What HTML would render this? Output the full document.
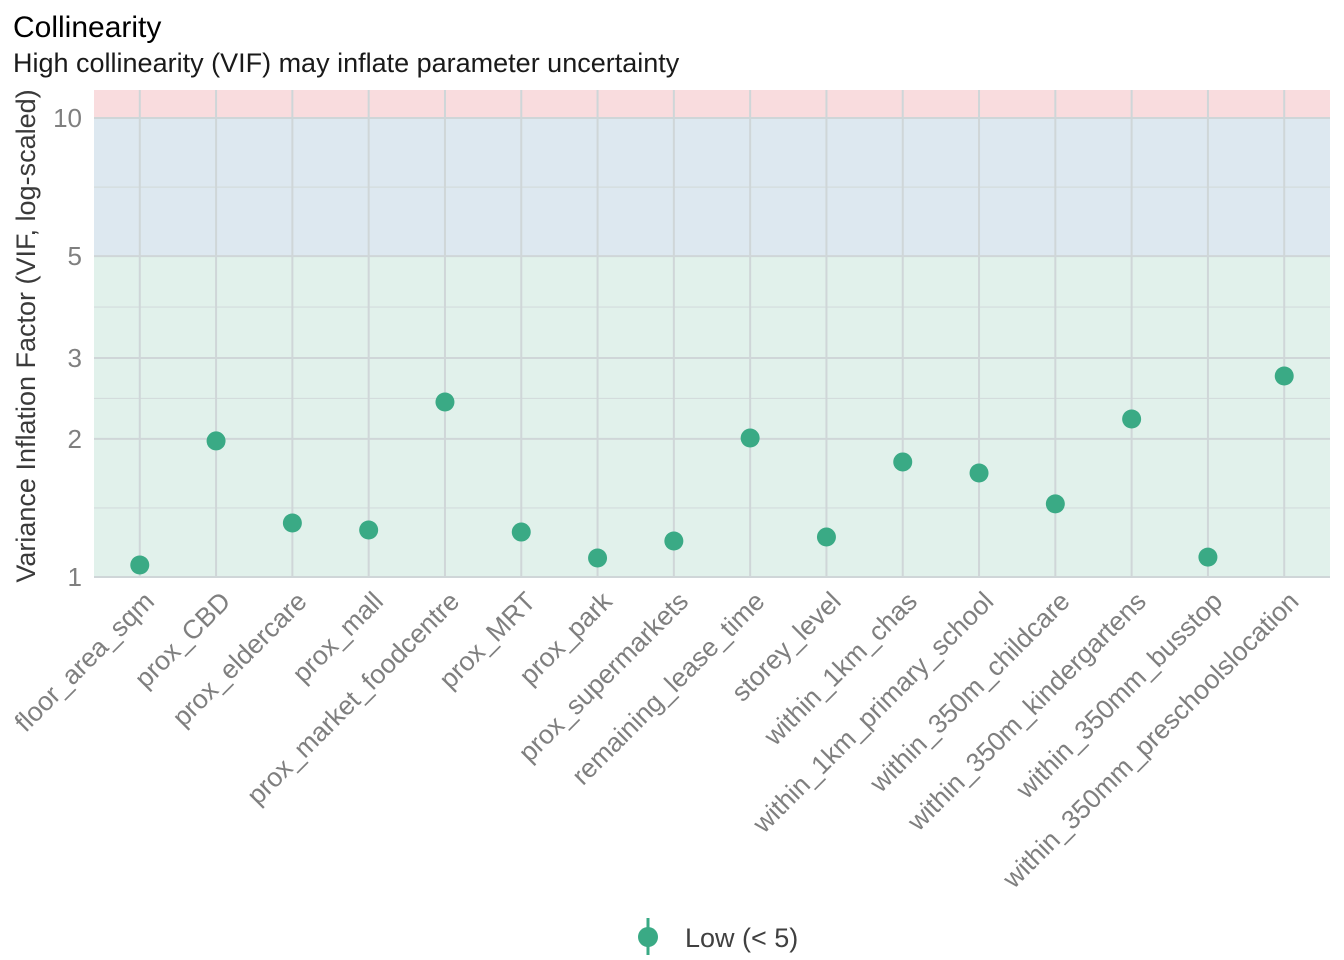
<!DOCTYPE html>
<html><head><meta charset="utf-8">
<style>
body{margin:0;background:#fff;}
svg{display:block;font-family:"Liberation Sans",Arial,sans-serif;}
</style></head>
<body>
<svg id="chart" width="1344" height="960">
  <text x="13" y="37" font-size="30" fill="#000">Collinearity</text>
  <text x="13" y="72" font-size="27" fill="#1a1a1a">High collinearity (VIF) may inflate parameter uncertainty</text>
  <g id="bands"></g>
  <g id="grid"></g>
  <g id="yticks"></g>
  <g id="xticks"></g>
  <g id="points"></g>
  <text transform="translate(35,336) rotate(-90)" text-anchor="middle" font-size="27" fill="#3a3a3a">Variance Inflation Factor (VIF, log-scaled)</text>
  <g>
    <line x1="648" y1="918" x2="648" y2="955" stroke="#3aaa85" stroke-width="3"/>
    <circle cx="648" cy="937" r="10" fill="#3aaa85"/>
    <text x="685" y="947" font-size="27" fill="#404040">Low (&lt; 5)</text>
  </g>
</svg>
<script>
const categories=["floor_area_sqm","prox_CBD","prox_eldercare","prox_mall","prox_market_foodcentre","prox_MRT","prox_park","prox_supermarkets","remaining_lease_time","storey_level","within_1km_chas","within_1km_primary_school","within_350m_childcare","within_350m_kindergartens","within_350mm_busstop","within_350mm_preschoolslocation"];
const vifValues=[1.062,1.979,1.311,1.266,2.406,1.253,1.100,1.198,2.008,1.222,1.781,1.685,1.443,2.209,1.105,2.741];
const yTickValues=[1,2,3,5,10];
const yMinorValues=[1.414,2.449,3.873,7.071];
const NS="http://www.w3.org/2000/svg";
const L=94,R=1330,T=90,B=577;
const step=(R-L)/(categories.length-1+1.2);
function xs(i){return L+step*0.6+i*step;}
function ys(v){return B-459*Math.log10(v);}
function mk(tag,attrs,parent){const e=document.createElementNS(NS,tag);for(const k in attrs)e.setAttribute(k,attrs[k]);parent.appendChild(e);return e;}
const bands=document.getElementById('bands');
let b1=mk('rect',{x:L,y:T,width:R-L,height:ys(10)-T,fill:'#f9dcde'},bands);


let b2=mk('rect',{x:L,y:ys(10),width:R-L,height:ys(5)-ys(10),fill:'#dde8f0'},bands);


let b3=mk('rect',{x:L,y:ys(5),width:R-L,height:B-ys(5),fill:'#e1f1eb'},bands);


const grid=document.getElementById('grid');
yMinorValues.forEach(v=>{const l=mk('line',{x1:L,x2:R,y1:ys(v),y2:ys(v),stroke:'#d3dcdc','stroke-width':1.2},grid);

});
yTickValues.forEach(v=>{const l=mk('line',{x1:L,x2:R,y1:ys(v),y2:ys(v),stroke:'#cfd6d8','stroke-width':2},grid);

});
categories.forEach((c,i)=>{const l=mk('line',{x1:xs(i),x2:xs(i),y1:T,y2:B,stroke:'#cfd6d8','stroke-width':2},grid);

});
const yt=document.getElementById('yticks');
yTickValues.forEach(v=>{const t=mk('text',{x:82,y:ys(v)+9,'text-anchor':'end','font-size':26,fill:'#7f7f7f'},yt);t.textContent=v;

});
const xt=document.getElementById('xticks');
categories.forEach((c,i)=>{const x=xs(i)+16,y=603;const t=mk('text',{x:x,y:y,'text-anchor':'end','font-size':26.5,fill:'#7f7f7f',transform:`rotate(-45 ${x} ${y})`},xt);t.textContent=c;

});
const pts=document.getElementById('points');
vifValues.forEach((v,i)=>{const p=mk('circle',{cx:xs(i),cy:ys(v),r:9.5,fill:'#3aaa85'},pts);

});
</script>
</body></html>
